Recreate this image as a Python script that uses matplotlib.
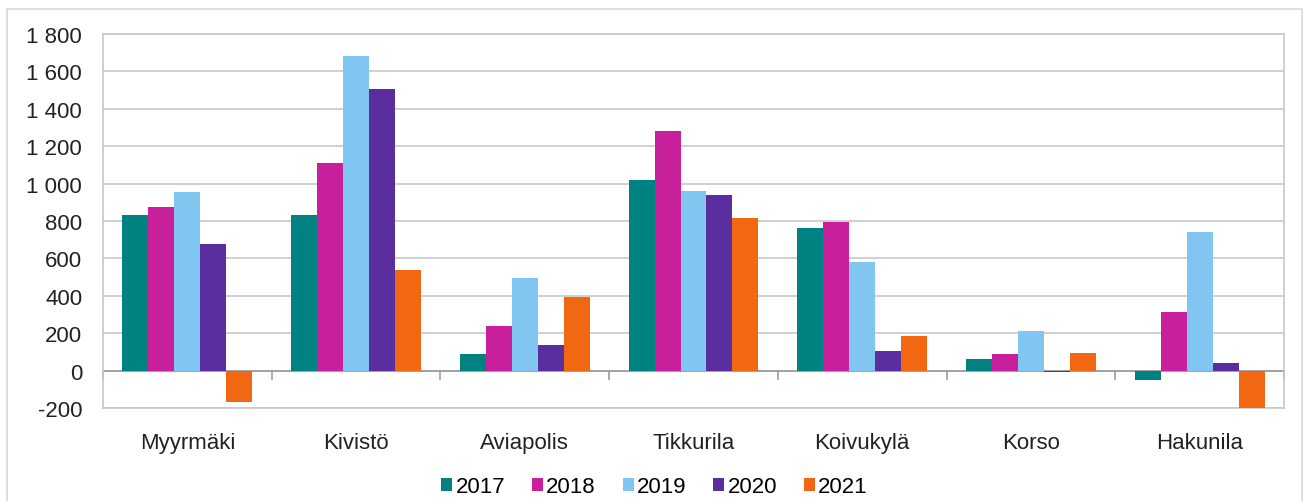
import matplotlib

matplotlib.use("Agg")
import matplotlib.pyplot as plt
import numpy as np
from matplotlib.patches import Rectangle
from matplotlib.ticker import FuncFormatter

plt.rcParams["font.family"] = ["Liberation Sans", "DejaVu Sans"]

categories = ["Myyrmäki", "Kivistö", "Aviapolis", "Tikkurila", "Koivukylä", "Korso", "Hakunila"]
years = ["2017", "2018", "2019", "2020", "2021"]
v2017 = [832, 832, 87, 1020, 763, 63, -48]
v2018 = [876, 1111, 239, 1279, 795, 88, 314]
v2019 = [953, 1682, 496, 959, 580, 214, 739]
v2020 = [679, 1507, 139, 938, 107, -10, 41]
v2021 = [-169, 536, 393, 814, 184, 95, -200]
series = [v2017, v2018, v2019, v2020, v2021]
colors = ["#008283", "#c7209a", "#80c6f1", "#5a2e9f", "#f26711"]

W, H = 1309, 502
fig = plt.figure(figsize=(W / 100, H / 100), dpi=100)
fig.patch.set_facecolor("white")

# outer chart frame (bottom edge runs off the picture)
fig.patches.append(Rectangle((7 / W, -0.01), (1302 - 7) / W, 1 - 10 / H + 0.01,
                             transform=fig.transFigure, fill=False,
                             edgecolor="#d9d9d9", linewidth=1.2))

ax = fig.add_axes([103 / W, 1 - 409 / H, (1284 - 103) / W, (409 - 35) / H])

n = len(categories)
x = np.arange(n)
bw = 0.154
for i, (vals, c) in enumerate(zip(series, colors)):
    ax.bar(x + (i - 2) * bw, vals, width=bw, color=c, label=years[i], zorder=3)

ax.set_xlim(-0.5, n - 0.5)
ax.set_ylim(-200, 1800)
ax.set_yticks(range(-200, 1801, 200))
ax.yaxis.set_major_formatter(FuncFormatter(lambda v, _: f"{int(v):,}".replace(",", " ")))
ax.grid(axis="y", color="#c8c8c8", linewidth=1.2, zorder=0)

for s in ax.spines.values():
    s.set_color("#c8c8c8")
    s.set_linewidth(1.2)

# zero line with category separator ticks
ax.axhline(0, color="#9a9a9a", linewidth=1.2, zorder=2)
for b in np.arange(-0.5, n, 1.0):
    ax.plot([b, b], [0, -45], color="#9a9a9a", linewidth=1.2, zorder=2, clip_on=False)

ax.tick_params(axis="y", length=0, labelsize=16, colors="#222222", pad=15)
ax.tick_params(axis="x", length=0, labelsize=16, colors="#222222", pad=17)
ax.set_xticks(x)
ax.set_xticklabels(categories)

handles, labels = ax.get_legend_handles_labels()
fig.legend(handles, labels, loc="center", bbox_to_anchor=(0.5, 1 - 488 / H),
           ncol=5, frameon=False, fontsize=16, handlelength=0.5, handleheight=0.5,
           handletextpad=0.15, columnspacing=1.2, borderaxespad=0)

fig.savefig("out.png", dpi=100, facecolor="white")
